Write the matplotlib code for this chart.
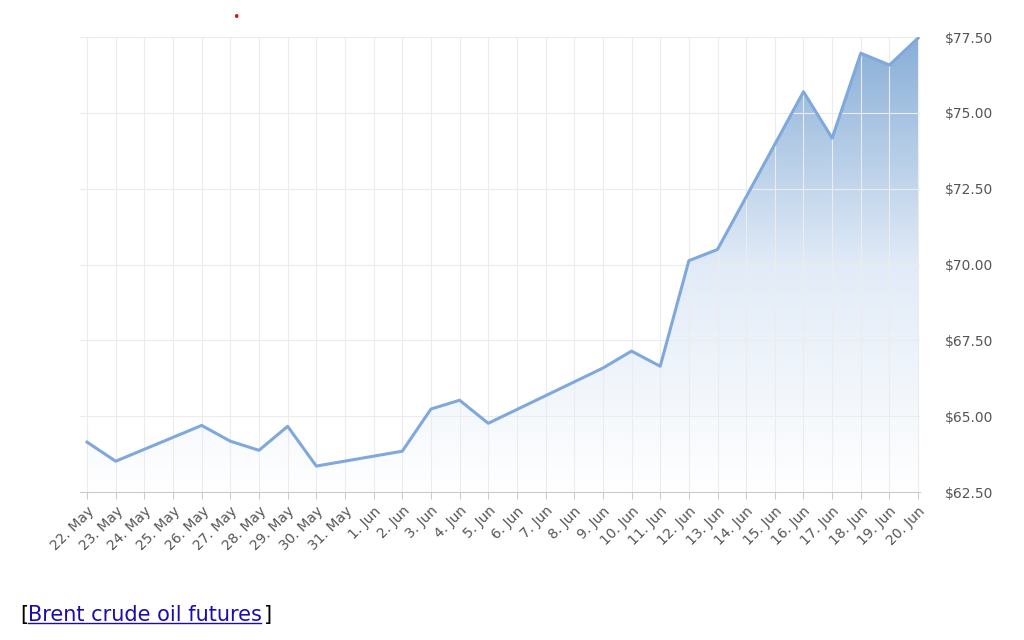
import numpy as np
import matplotlib
matplotlib.use("Agg")
from matplotlib import pyplot as plt
from matplotlib.colors import LinearSegmentedColormap

# day offsets from 22 May, and Brent price
days = [0, 1, 4, 5, 6, 7, 8, 11, 12, 13, 14, 18, 19, 20, 21, 22, 25, 26, 27, 28, 29]
prices = [64.15, 63.52, 64.70, 64.18, 63.88, 64.67, 63.36, 63.85, 65.24, 65.53, 64.77,
          66.59, 67.15, 66.65, 70.13, 70.50, 75.70, 74.17, 76.97, 76.58, 77.47]
tick_labels = ([f"{d}. May" for d in range(22, 32)] +
               [f"{d}. Jun" for d in range(1, 21)])
y_ticks = [62.5, 65.0, 67.5, 70.0, 72.5, 75.0, 77.5]

fig = plt.figure(figsize=(10.24, 6.4), dpi=100)
ax = fig.add_axes([0.078, 0.231, 0.82, 0.711])

x = np.array(days, dtype=float)
y = np.array(prices)
ymin, ymax = 62.5, 77.5
xmin, xmax = -0.25, 29.05

# gradient fill under the line
poly = ax.fill_between(x, y, ymin, color="none")
cmap = LinearSegmentedColormap.from_list("g", ["#ffffff", "#e1ebf7", "#88aed7"])
grad = np.linspace(0, 1, 256).reshape(-1, 1)
im = ax.imshow(grad, cmap=cmap, aspect="auto", origin="lower",
               extent=[xmin, xmax, ymin, ymax], zorder=1)
im.set_clip_path(poly.get_paths()[0], transform=ax.transData)

ax.plot(x, y, color="#7fa9dc", lw=2.2, zorder=3)

ax.set_xlim(xmin, xmax)
ax.set_ylim(ymin, ymax)
ax.set_xticks(range(len(tick_labels)))
ax.set_xticklabels(tick_labels, rotation=45, ha="right", rotation_mode="anchor",
                   fontsize=10, color="#555555")
ax.set_yticks(y_ticks)
ax.set_yticklabels([f"${v:.2f}" for v in y_ticks], fontsize=10, color="#555555")
ax.yaxis.tick_right()
ax.tick_params(axis="y", length=0, pad=18)
ax.tick_params(axis="x", length=5, color="#cccccc")
ax.grid(True, color="#ececec", lw=0.8, zorder=0)
for s in ["top", "right", "left"]:
    ax.spines[s].set_visible(False)
ax.spines["bottom"].set_color("#cccccc")

fig.text(0.23, 0.972, "•", color="#dd1111", fontsize=9, ha="center", va="center")
fig.text(0.020, 0.030, "[", fontsize=15, color="black")
fig.text(0.027, 0.030, "Brent crude oil futures", fontsize=15, color="#1a0dab")
fig.add_artist(plt.Line2D([0.027, 0.255], [0.026, 0.026], color="#1a0dab", lw=1))
fig.text(0.258, 0.030, "]", fontsize=15, color="black")

fig.savefig("out.png", dpi=100)
